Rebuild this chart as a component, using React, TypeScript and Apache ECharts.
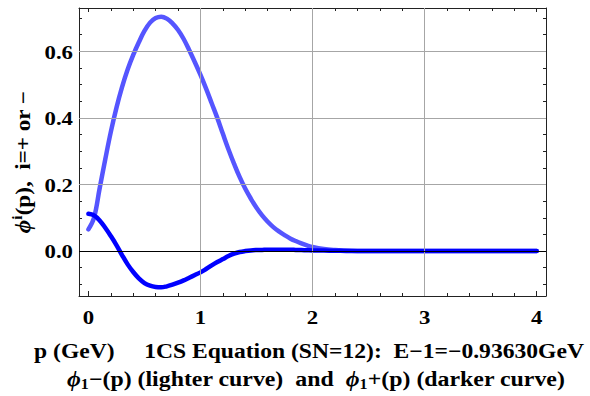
import React, { useEffect, useRef } from "react";
import * as echarts from "echarts";

// momentum p (GeV), shared by both curves
const pValues = [
  0, 0.05, 0.1, 0.15, 0.2, 0.25, 0.3, 0.35, 0.4, 0.45, 0.5, 0.55, 0.6, 0.65, 0.7, 0.75, 0.8, 0.85, 0.9, 0.95,
  1.0, 1.05, 1.1, 1.15, 1.2, 1.25, 1.3, 1.35, 1.4, 1.45, 1.5, 1.55, 1.6, 1.65, 1.7, 1.75, 1.8, 1.85, 1.9, 1.95,
  2.0, 2.1, 2.2, 2.3, 2.4, 2.5, 3.0, 3.5, 4.0,
];
// φ1−(p) lighter curve
const phiMinus = [
  0.065, 0.1, 0.188, 0.275, 0.358, 0.43, 0.492, 0.545, 0.589, 0.627, 0.661, 0.686, 0.7, 0.704, 0.698, 0.684, 0.664, 0.637, 0.603, 0.567,
  0.529, 0.488, 0.444, 0.4, 0.352, 0.305, 0.262, 0.222, 0.187, 0.157, 0.13, 0.107, 0.088, 0.072, 0.059, 0.048, 0.038, 0.03, 0.023, 0.017,
  0.012, 0.006, 0.003, 0.0015, 0.0005, 0, 0, 0, 0,
];
// φ1+(p) darker curve
const phiPlus = [
  0.112, 0.107, 0.092, 0.07, 0.045, 0.018, -0.012, -0.04, -0.063, -0.082, -0.096, -0.104, -0.108, -0.109, -0.106, -0.101, -0.095, -0.088, -0.08, -0.072,
  -0.064, -0.054, -0.043, -0.033, -0.024, -0.015, -0.008, -0.003, 0.0, 0.002, 0.003, 0.0035, 0.004, 0.004, 0.004, 0.004, 0.004, 0.0035, 0.003, 0.0025,
  0.002, 0.0015, 0.001, 0.0005, 0, 0, 0, 0, 0,
];

const xTickValues = [0, 1, 2, 3, 4];
const xTickLabels = ["0", "1", "2", "3", "4"];
const yTickValues = [0, 0.2, 0.4, 0.6];
const yTickLabels = ["0.0", "0.2", "0.4", "0.6"];

const xGridLines = [1, 2, 3];
const yGridLines = [0.2, 0.4, 0.6];

const xRange = [-0.084, 4.083];
const yRange = [-0.135, 0.73];

const yTitle = "{phi|ϕ}{sup|i}{n|(p),  i=+ or −}";
const xTitle1 = "p (GeV)     1CS Equation (SN=12):  E−1=−0.93630GeV";
const xTitle2 = "{phi|ϕ}{sub|1}{n|−(p) (lighter curve)  and  }{phi|ϕ}{sub|1}{n|+(p) (darker curve)}";

const FONT = "'Liberation Serif', 'Times New Roman', serif";

export default function App() {
  const ref = useRef<HTMLDivElement>(null);
  useEffect(() => {
    if (!ref.current) return;
    const chart = echarts.init(ref.current, undefined, { renderer: "svg" });
    const frameLine = { show: true, onZero: false, lineStyle: { color: "#222", width: 1 } };
    const tick = (len: number) => ({ show: true, inside: true, length: len, lineStyle: { color: "#222" } });
    const rich = (fs: number) => ({
      phi: { fontFamily: FONT, fontWeight: "bold" as const, fontStyle: "italic" as const, fontSize: fs, lineHeight: fs + 4, color: "#000" },
      n: { fontFamily: FONT, fontWeight: "bold" as const, fontSize: fs, lineHeight: fs + 4, color: "#000" },
      sup: { fontFamily: FONT, fontWeight: "bold" as const, fontSize: 14, lineHeight: 15, verticalAlign: "top" as const, color: "#000" },
      sub: { fontFamily: FONT, fontWeight: "bold" as const, fontSize: 14, lineHeight: 15, verticalAlign: "bottom" as const, color: "#000" },
    });
    chart.setOption({
      animation: false,
      backgroundColor: "#fff",
      grid: { left: 79, top: 8, width: 467, height: 288, containLabel: false },
      xAxis: [
        {
          type: "value", position: "bottom", min: xRange[0], max: xRange[1],
          axisLine: frameLine, axisTick: tick(5),
          minorTick: { show: true, splitNumber: 5, length: 3, lineStyle: { color: "#222" } },
          splitLine: { show: false }, axisLabel: { show: false },
        },
        {
          type: "value", position: "top", min: xRange[0], max: xRange[1],
          axisLine: frameLine, axisTick: tick(4),
          minorTick: { show: true, splitNumber: 5, length: 3, lineStyle: { color: "#222" } },
          splitLine: { show: false }, axisLabel: { show: false },
        },
      ],
      yAxis: [
        {
          type: "value", position: "left", min: yRange[0], max: yRange[1],
          axisLine: frameLine, axisTick: tick(5),
          minorTick: { show: true, splitNumber: 4, length: 3, lineStyle: { color: "#222" } },
          splitLine: { show: false }, axisLabel: { show: false },
        },
        {
          type: "value", position: "right", min: yRange[0], max: yRange[1],
          axisLine: frameLine, axisTick: tick(4),
          minorTick: { show: true, splitNumber: 4, length: 3, lineStyle: { color: "#222" } },
          splitLine: { show: false }, axisLabel: { show: false },
        },
      ],
      series: [
        {
          type: "line", name: "grid", data: [], z: 1, silent: true,
          markLine: {
            silent: true, symbol: "none", label: { show: false },
            lineStyle: { color: "#a6a6a6", width: 1, type: "solid" },
            data: [
              ...xGridLines.map((v) => ({ xAxis: v })),
              ...yGridLines.map((v) => ({ yAxis: v })),
              { yAxis: 0, lineStyle: { color: "#000", width: 1, type: "solid" } },
            ],
          },
        },
        {
          type: "line", name: "phi1-", z: 3,
          data: pValues.map((p, i) => [p, phiMinus[i]]),
          showSymbol: false, smooth: 0.4,
          lineStyle: { color: "#5555ff", width: 4.5, cap: "round", join: "round" },
        },
        {
          type: "line", name: "phi1+", z: 4,
          data: pValues.map((p, i) => [p, phiPlus[i]]),
          showSymbol: false, smooth: 0.4,
          lineStyle: { color: "#0000ff", width: 4.5, cap: "round", join: "round" },
        },
      ],
    });

    // Tick labels and titles placed through the chart's own axis scales
    const xPix = (v: number) => chart.convertToPixel({ xAxisIndex: 0 }, v) as number;
    const yPix = (v: number) => chart.convertToPixel({ yAxisIndex: 0 }, v) as number;
    const left = xPix(xRange[0]);
    const bottom = yPix(yRange[0]);
    const tickFont = `bold 19px ${FONT}`;
    const graphics: any[] = [];
    xTickValues.forEach((v, i) => {
      graphics.push({
        type: "text", x: xPix(v), y: bottom + 22, scaleX: 1.2,
        style: { text: xTickLabels[i], font: tickFont, fill: "#000", align: "center", verticalAlign: "middle" },
      });
    });
    yTickValues.forEach((v, i) => {
      graphics.push({
        type: "text", x: left - 6, y: yPix(v) + 1, scaleX: 1.2,
        style: { text: yTickLabels[i], font: tickFont, fill: "#000", align: "right", verticalAlign: "middle" },
      });
    });
    graphics.push(
      {
        type: "text", x: 23, y: 162, rotation: Math.PI / 2, scaleX: 1.1,
        style: { text: yTitle, align: "center", verticalAlign: "middle", rich: rich(21) },
      },
      {
        type: "text", x: 309, y: 351, scaleX: 1.124,
        style: { text: xTitle1, align: "center", verticalAlign: "middle", fill: "#000", font: `bold 21px ${FONT}` },
      },
      {
        type: "text", x: 316, y: 379, scaleX: 1.135,
        style: { text: xTitle2, align: "center", verticalAlign: "middle", rich: rich(21) },
      }
    );
    chart.setOption({ graphic: graphics });
    return () => chart.dispose();
  }, []);
  return <div ref={ref} style={{ width: 590, height: 396, position: "absolute", left: 0, top: 0 }} />;
}
